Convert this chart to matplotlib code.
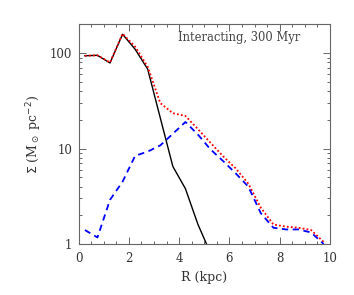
import numpy as np
import matplotlib
matplotlib.use("Agg")
import matplotlib.pyplot as plt
from matplotlib.ticker import MultipleLocator, LogLocator, NullFormatter, FixedLocator

# radius grid (kpc)
r = [0.25, 0.75, 1.25, 1.75, 2.25, 2.75, 3.25, 3.75, 4.25, 4.75,
     5.25, 5.75, 6.25, 6.75, 7.25, 7.75, 8.25, 8.75, 9.25, 9.75]

# surface densities (Msun/pc^2)
sigma_old = [94, 95, 79, 158, 110, 68, 21, 6.5, 3.8, 1.6, 0.8]
sigma_total = [94, 95, 80, 160, 117, 72, 30, 23.5, 22, 16,
               11.5, 8.3, 6.2, 4.3, 2.4, 1.6, 1.52, 1.48, 1.4, 1.05]
sigma_new = [1.4, 1.17, 2.9, 4.5, 8.4, 9.3, 10.8, 14.3, 19, 14,
             9.8, 7.4, 5.5, 4.0, 2.1, 1.48, 1.42, 1.42, 1.32, 1.0]

plt.rcParams['font.family'] = ['DejaVu Serif']
gray = '#666666'
txt = '#333333'

fig = plt.figure(figsize=(3.54, 2.95), dpi=100)
ax = fig.add_axes([0.222, 0.173, 0.71, 0.744])

ax.plot(r[:len(sigma_old)], sigma_old, color='black', lw=1.0)
ax.plot(r, sigma_total, color='red', lw=1.3, ls=(0, (1, 1.2)))
ax.plot(r, sigma_new, color='blue', lw=1.3, ls=(0, (3.5, 2.5)))

ax.set_yscale('log')
ax.set_xlim(0, 10)
ax.set_ylim(1, 200)

ax.xaxis.set_major_locator(MultipleLocator(2))
ax.xaxis.set_minor_locator(MultipleLocator(0.5))
ax.yaxis.set_major_locator(FixedLocator([1, 10, 100]))
ax.yaxis.set_minor_locator(LogLocator(base=10, subs=np.arange(2, 10)))
ax.yaxis.set_minor_formatter(NullFormatter())
ax.set_yticklabels(['1', '10', '100'])

ax.tick_params(which='both', direction='in', top=True, right=True,
               color=gray, labelcolor=txt, labelsize=8.5, width=0.7)
ax.tick_params(which='major', length=5)
ax.tick_params(which='minor', length=2.5)
ax.tick_params(axis='x', which='major', pad=6)
ax.tick_params(axis='y', which='major', pad=4.5)
for s in ax.spines.values():
    s.set_color(gray)
    s.set_linewidth(0.8)

ax.set_xlabel('R (kpc)', color=txt, fontsize=9, labelpad=4)
ax.set_ylabel(r'$\Sigma$ (M$_\odot$ pc$^{-2}$)', color=txt, fontsize=9, labelpad=4)
ax.text(0.88, 0.94, 'Interacting, 300 Myr', transform=ax.transAxes,
        ha='right', va='center', fontsize=8.3, color='#444444')

fig.savefig('out.png', dpi=100)
